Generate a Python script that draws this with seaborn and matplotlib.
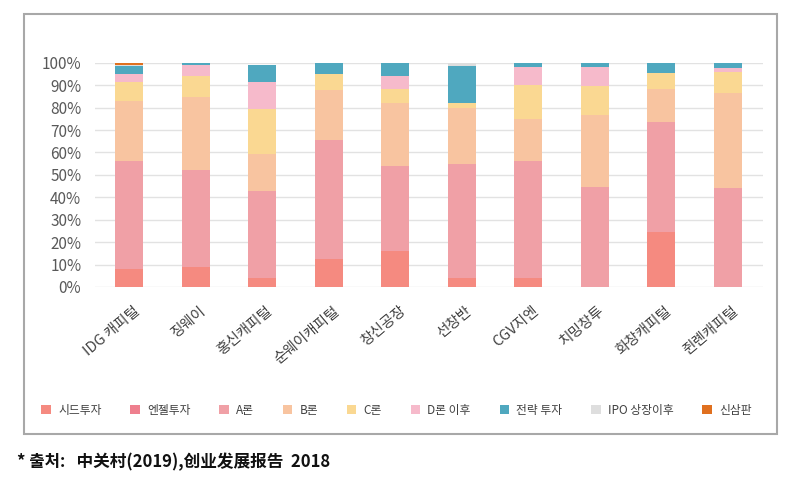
import numpy as np
import matplotlib
matplotlib.use("Agg")
import matplotlib.pyplot as plt
import matplotlib.transforms as mtransforms
from matplotlib.patches import Patch, Rectangle
import seaborn as sns

companies = ["IDG 캐피털", "징웨이", "홍신캐피털", "순웨이캐피털", "창신공장",
             "선창반", "CGV지엔", "치밍창투", "화창캐피털", "쥔롄캐피털"]
stages = ["시드투자", "엔젤투자", "A론", "B론", "C론", "D론 이후",
          "전략 투자", "IPO 상장이후", "신삼판"]

seed = [8, 9, 4, 12.5, 16, 4, 4, 0, 24.5, 0]
angel = [0, 0, 0, 0, 0, 0, 0, 0, 0, 0]
a_round = [48, 43, 39, 53, 38, 51, 52, 44.5, 49, 44]
b_round = [27, 32.5, 16.5, 22.5, 28, 25, 19, 32, 15, 42.5]
c_round = [8.5, 9.5, 20, 7, 6.5, 2, 15, 13, 7, 9.5]
d_round = [3.5, 5, 12, 0, 5.5, 0, 8, 8.5, 0, 1.5]
strategic = [3.5, 1, 7.5, 5, 6, 16.5, 2, 2, 4.5, 2.5]
ipo = [0.5, 0, 0, 0, 0, 1.5, 0, 0, 0, 0]
neeq = [1.5, 0, 0, 0, 0, 0, 0, 0, 0, 0]

colors = ["#F58A80", "#EE7F8E", "#F0A0A6", "#F8C4A0", "#FAD892", "#F6BACB",
          "#4FA8BF", "#DEDEDE", "#E0701F"]

series = [seed, angel, a_round, b_round, c_round, d_round, strategic, ipo, neeq]
vals = np.array(series) / 100.0
cum = np.cumsum(vals, axis=0)

plt.rcParams["font.family"] = ["Noto Sans CJK KR", "Noto Sans CJK SC", "DejaVu Sans"]

fig = plt.figure(figsize=(7.93, 4.79), dpi=100)
ax = fig.add_axes([0.120, 0.401, 0.842, 0.468])

# stacked bars: draw cumulative totals from the top layer down
for i in range(len(stages) - 1, -1, -1):
    sns.barplot(x=companies, y=cum[i], color=colors[i], width=0.42,
                saturation=1, ax=ax, zorder=3)

ax.set_ylim(0, 1.0)
ax.set_xlim(-0.51, 9.53)
ax.set_yticks(np.arange(0, 1.01, 0.1))
ax.set_yticklabels([f"{int(round(v * 100))}%" for v in np.arange(0, 1.01, 0.1)],
                   color="#595959", fontsize=11)
ax.grid(axis="y", color="#E2E2E2", linewidth=1, zorder=0)
ax.set_axisbelow(True)
for s in ax.spines.values():
    s.set_visible(False)
ax.tick_params(axis="both", length=0)
ax.tick_params(axis="y", pad=10)
ax.set_xlabel("")
ax.set_ylabel("")

ax.set_xticks(range(len(companies)))
ax.set_xticklabels(companies, rotation=40, ha="right", rotation_mode="anchor",
                   fontsize=10.5, color="#404040")
offset = mtransforms.ScaledTranslation(0.04, -0.12, fig.dpi_scale_trans)
for lab in ax.get_xticklabels():
    lab.set_transform(lab.get_transform() + offset)

handles = [Patch(facecolor=c, edgecolor="none") for c in colors]
fig.legend(handles, stages, loc="center", bbox_to_anchor=(0.500, 0.143), ncol=9,
           frameon=False, fontsize=8.5, handlelength=0.8, handleheight=0.8,
           columnspacing=2.45, handletextpad=0.6, labelcolor="#404040")

# outer frame
fig.patches.append(Rectangle((0.030, 0.094), 0.950, 0.877, transform=fig.transFigure,
                             fill=False, edgecolor="#A8A8A8", linewidth=1.5))

fig.text(0.022, 0.035, "* 출처:   中关村(2019),创业发展报告  2018", fontsize=12,
         fontweight="bold", color="#111111", va="center")

fig.savefig("out.png", dpi=100)
